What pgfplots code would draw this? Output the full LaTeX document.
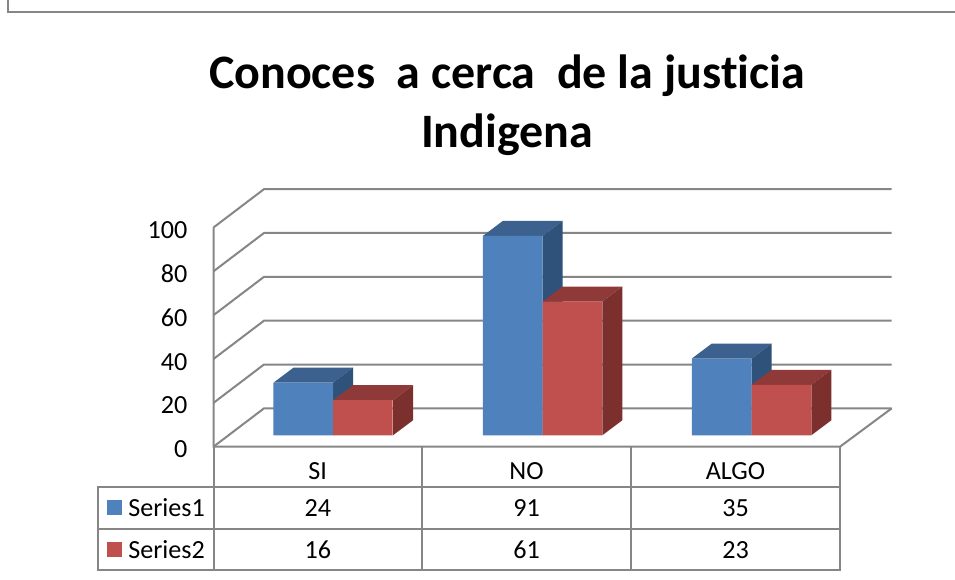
\documentclass[border=0pt]{standalone}
\usepackage{pgfplots}
\pgfplotsset{compat=1.18}
\usepackage{fontspec}
\setmainfont{Carlito}[Ligatures=NoCommon]
\definecolor{gl}{HTML}{868686}
\definecolor{bf}{HTML}{4F81BD}
\definecolor{bt}{HTML}{3C618F}
\definecolor{bs}{HTML}{2F527B}
\definecolor{rf}{HTML}{C0504D}
\definecolor{rt}{HTML}{8F3A38}
\definecolor{rs}{HTML}{7B302E}
% top and side faces of a bar: x left, x right, value, colours
\newcommand\depthfaces[5]{%
  \pgfmathsetmacro\xc{#2+20}\pgfmathsetmacro\xd{#1+20}\pgfmathsetmacro\vb{#3+6.85}%
  \addplot[fill=#4,draw=none,yshift=8.55pt] coordinates {(#1,#3)(#2,#3)(\xc,\vb)(\xd,\vb)} --cycle;
  \addplot[fill=#5,draw=none,yshift=8.55pt] coordinates {(#2,0)(#2,#3)(\xc,\vb)(\xc,6.85)} --cycle;
}
\begin{document}
\begin{tikzpicture}[x=0.75pt,y=0.75pt]
\path[use as bounding box] (0,0) rectangle (955,580);
\fill[white] (0,0) rectangle (955,580);
% outer frame
\draw[gl,line width=1.6pt] (8,580) -- (8,568) -- (955,568);
\begin{axis}[
  at={(160.125pt,99.975pt)},anchor=south west,
  scale only axis,
  width=469.875pt,height=164.4pt,
  xmin=213.5,xmax=840,ymin=0,ymax=100,
  clip=false,
  axis line style={draw=none},
  tick style={draw=none},
  ytick={0,20,40,60,80,100},
  xtick={317.75,526.5,735.5},
  xticklabels={SI,NO,ALGO},
  tick label style={font=\fontsize{19.6}{23}\selectfont,/pgf/number format/assume math mode=true},
  yticklabel style={xshift=-16pt,yshift=-2pt},
  xticklabel style={anchor=center,yshift=-18.5pt},
  title={Conoces\ \ a cerca\ \ de la justicia\\Indigena},
  title style={at={(axis description cs:0.4685,1)},anchor=south,align=center,yshift=44pt,
    font=\fontsize{36}{44.5}\selectfont\bfseries},
]
% walls and floor
\pgfplotsinvokeforeach{0,20,40,60,80,100}{
  \pgfmathsetmacro\vb{#1+17.49}
  \addplot[gl,line width=1.5pt] coordinates {(213.5,#1)(264,\vb)(891.7,\vb)};
}
\addplot[gl,line width=1.5pt] coordinates {(213.5,100)(213.5,0)(840,0)(891.7,17.49)};
% Series1 depth, Series2 depth
\depthfaces{273.5}{333}{24}{bt}{bs}
\depthfaces{483}{542.5}{91}{bt}{bs}
\depthfaces{691.8}{751.5}{35}{bt}{bs}
\depthfaces{333}{393}{16}{rt}{rs}
\depthfaces{542.5}{602.3}{61}{rt}{rs}
\depthfaces{751.5}{811.3}{23}{rt}{rs}
% front faces
\addplot[ybar,fill=bf,draw=none,yshift=8.55pt,/pgf/bar width=59.7,/pgf/bar shift=-29.85]
  coordinates {(333,24)(542.5,91)(751.5,35)};
\addplot[ybar,fill=rf,draw=none,yshift=8.55pt,/pgf/bar width=59.7,/pgf/bar shift=29.85]
  coordinates {(333,16)(542.5,61)(751.5,23)};
\end{axis}
% data table
\begin{scope}[gl,line width=1.5pt]
\draw (98,93.3) rectangle (840,10);
\draw (98,51.3) -- (840,51.3);
\draw (213.5,133.3) -- (213.5,10);
\draw (422,133.3) -- (422,10);
\draw (631,133.3) -- (631,10);
\draw (840,133.3) -- (840,10);
\end{scope}
\fill[bf] (107,65) rectangle (122,80);
\fill[rf] (107,23) rectangle (122,38);
\begin{scope}[font=\fontsize{19.6}{23}\selectfont,inner sep=0pt]
\node[anchor=base west] at (128,63) {Series1};
\node[anchor=base west] at (128,21) {Series2};
\node[anchor=base] at (317.75,63) {24};
\node[anchor=base] at (526.5,63) {91};
\node[anchor=base] at (735.5,63) {35};
\node[anchor=base] at (317.75,21) {16};
\node[anchor=base] at (526.5,21) {61};
\node[anchor=base] at (735.5,21) {23};
\end{scope}
\end{tikzpicture}
\end{document}
